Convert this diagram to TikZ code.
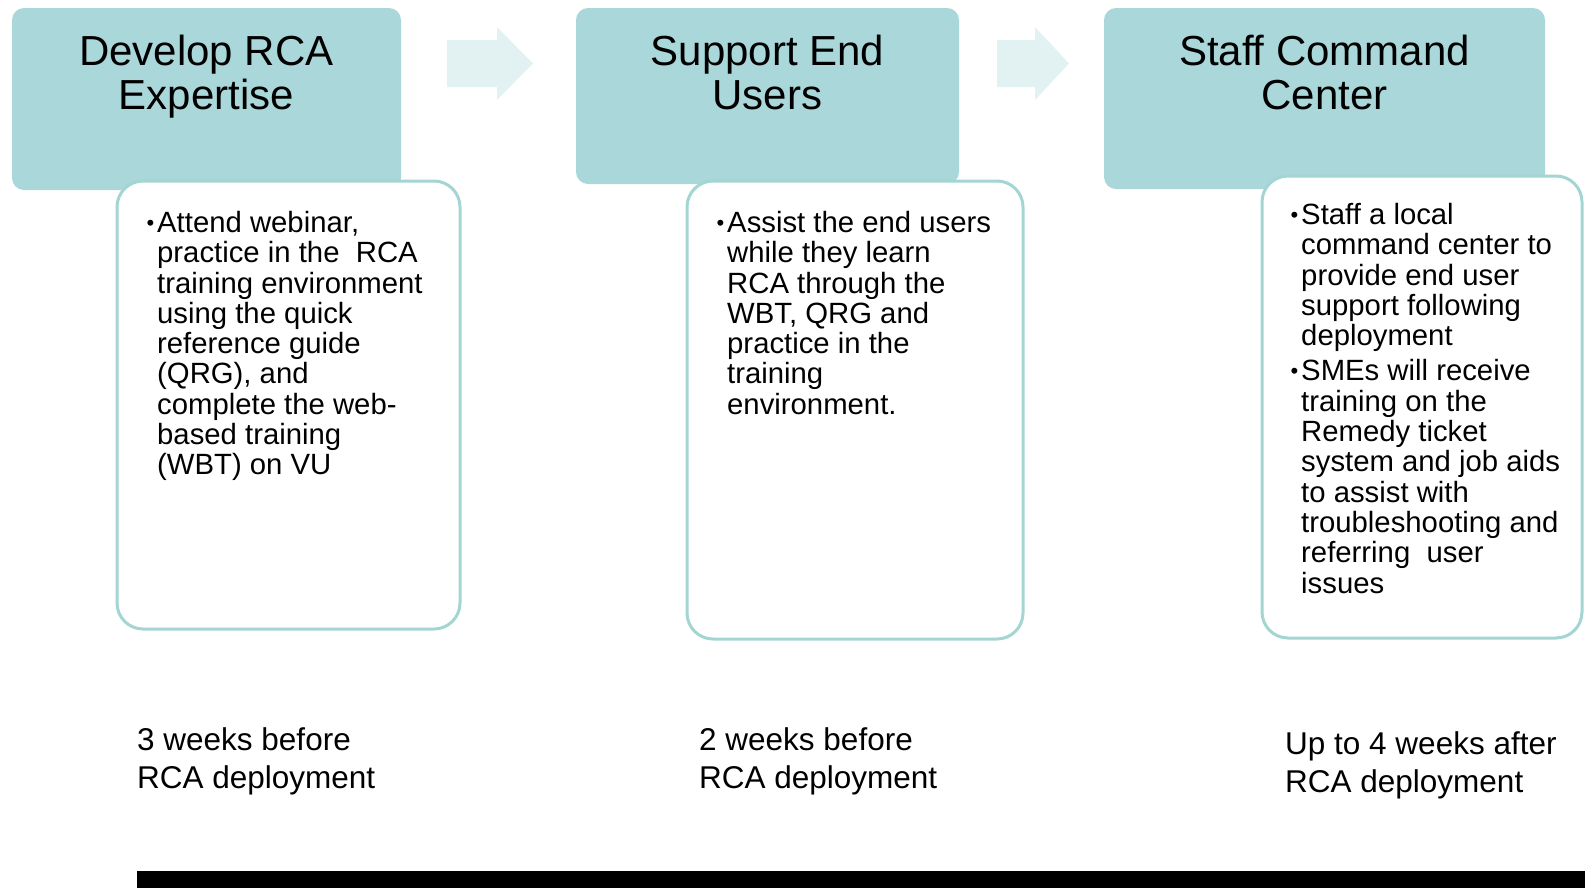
\documentclass[tikz,border=0pt]{standalone}
\usepackage{fontspec}
\setmainfont{Liberation Sans}
\usepackage{tikz}
\definecolor{headfill}{HTML}{AAD7DA}
\definecolor{boxline}{HTML}{A3D5D3}
\definecolor{arrowfill}{HTML}{E2F1F1}
\tikzstyle{stage}=[fill=headfill, rounded corners=12pt, inner sep=0pt]
\tikzstyle{stagetext}=[inner sep=0pt, anchor=north, align=center, font=\fontsize{42}{43.5}\selectfont]
\tikzstyle{detail}=[draw=boxline, line width=3pt, fill=white, rounded corners=26pt, inner sep=0pt]
\tikzstyle{detailtext}=[inner sep=0pt, anchor=north west, align=left, font=\fontsize{29.3}{30.3}\selectfont]
\tikzstyle{when}=[inner sep=0pt, anchor=north west, align=left, font=\fontsize{31.5}{38.4}\selectfont]
\tikzstyle{flow}=[fill=arrowfill]
\newcommand{\bul}{\llap{\raisebox{2pt}{\fontsize{22}{22}\selectfont\textbullet}\hspace{3pt}}}

\begin{document}
\begin{tikzpicture}[x=1pt,y=-1pt]
        \useasboundingbox (0,0) rectangle (1585,892);
        % stage headers
        \node[stage, minimum width=389pt, minimum height=182pt] (S1) at (206.5,99) {};
        \node[stage, minimum width=383pt, minimum height=176pt] (S2) at (767.5,96) {};
        \node[stage, minimum width=441pt, minimum height=181pt] (S3) at (1324.5,98.5) {};
        \node[stagetext] (S1t) at (206.5,35) {Develop RCA\\Expertise};
        \node[stagetext] (S2t) at (767.5,35) {Support End\\Users};
        \node[stagetext] (S3t) at (1324.5,35) {Staff Command\\Center};
        % block arrows
        \fill[flow] (447,40) -- (497,40) -- (497,27) -- (533,63.5) -- (497,100) -- (497,87) -- (447,87) -- cycle;
        \fill[flow] (997,40) -- (1035,40) -- (1035,27) -- (1069,63.5) -- (1035,100) -- (1035,87) -- (997,87) -- cycle;
        % detail boxes
        \node[detail, minimum width=343pt, minimum height=448pt] (D1) at (288.5,405) {};
        \node[detail, minimum width=336pt, minimum height=458pt] (D2) at (855,410) {};
        \node[detail, minimum width=320pt, minimum height=462pt] (D3) at (1422,407) {};
        \node[detailtext] (D1t) at (157,211) {\bul Attend webinar,\\practice in the\ \ RCA\\training environment\\using the quick\\reference guide\\(QRG), and\\complete the web-\\based training\\(WBT) on VU};
        \node[detailtext] (D2t) at (727,211) {\bul Assist the end users\\while they learn\\RCA through the\\WBT, QRG and\\practice in the\\training\\environment.};
        \node[detailtext] (D3t) at (1301,203) {\bul Staff a local\\command center to\\provide end user\\support following\\deployment\\[5pt]\bul SMEs will receive\\training on the\\Remedy ticket\\system and job aids\\to assist with\\troubleshooting and\\referring\ \ user\\issues};
        % timing
        \node[when] (W1) at (137,727) {3 weeks before\\RCA deployment};
        \node[when] (W2) at (699,727) {2 weeks before\\RCA deployment};
        \node[when] (W3) at (1285,731) {Up to 4 weeks after\\RCA deployment};
        \fill (137,871) rectangle (1585,888);
\end{tikzpicture}
\end{document}
